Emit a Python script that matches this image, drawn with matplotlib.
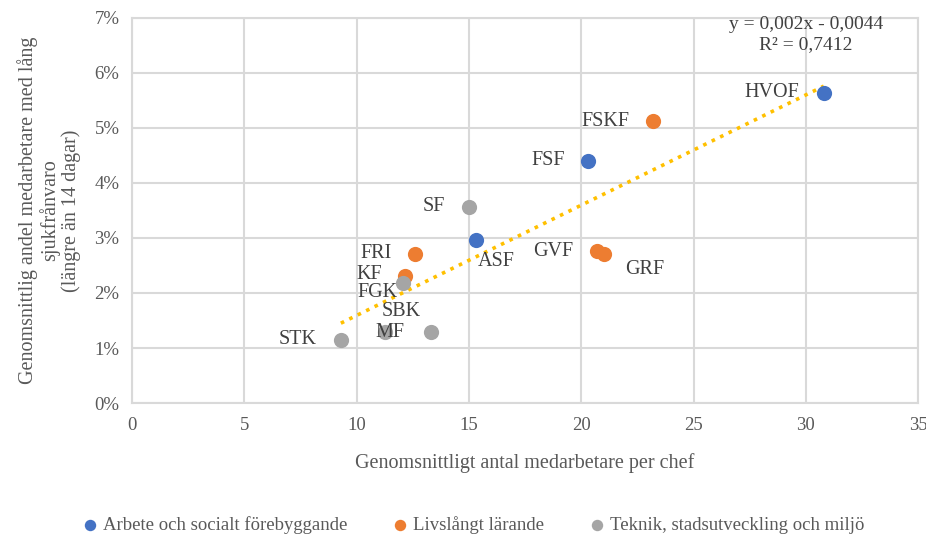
import numpy as np
import matplotlib
matplotlib.use("Agg")
import matplotlib.pyplot as plt

plt.rcParams['font.family'] = ['Liberation Serif', 'DejaVu Serif']

# Data (x = medarbetare per chef, y = andel i %)
blue_names = ["ASF", "FSF", "HVOF"]
blue_x = [15.3, 20.3, 30.8]
blue_y = [2.96, 4.40, 5.64]

orange_names = ["FRI", "KF", "FSKF", "GVF", "GRF"]
orange_x = [12.6, 12.15, 23.2, 20.7, 21.0]
orange_y = [2.71, 2.31, 5.12, 2.76, 2.71]

gray_names = ["STK", "MF", "SBK", "FGK", "SF"]
gray_x = [9.3, 11.25, 13.3, 12.05, 15.0]
gray_y = [1.15, 1.29, 1.29, 2.19, 3.57]

series = [
    ("Arbete och socialt förebyggande", "#4472C4", blue_names, blue_x, blue_y),
    ("Livslångt lärande", "#ED7D31", orange_names, orange_x, orange_y),
    ("Teknik, stadsutveckling och miljö", "#A5A5A5", gray_names, gray_x, gray_y),
]

# label offsets in pixels
offsets = {
    "HVOF": (-52, 0), "FSKF": (-48, 0), "FSF": (-40, 0), "SF": (-35, 0),
    "FRI": (-39, 0), "ASF": (21, -21), "GVF": (-44, 0), "GRF": (41, -16),
    "KF": (-36, 1), "FGK": (-25, -10), "SBK": (-30, 21), "MF": (5, 0),
    "STK": (-43, 0),
}

fig = plt.figure(figsize=(9.26, 5.36), dpi=100)
ax = fig.add_axes([0.1425, 0.248, 0.849, 0.719])

for name, color, names, xs, ys in series:
    ax.scatter(xs, ys, s=120, color=color, label=name, zorder=3, linewidths=0)
    for n, x, y in zip(names, xs, ys):
        dx, dy = offsets[n]
        ax.annotate(n, (x, y), xytext=(dx, dy), textcoords="offset pixels",
                    ha="center", va="center", fontsize=14.5, color="#404040", zorder=4)

# Linear trendline over all points
all_x = np.array(blue_x + orange_x + gray_x)
all_y = np.array(blue_y + orange_y + gray_y)
k, m = np.polyfit(all_x, all_y, 1)
tx = np.array([all_x.min(), all_x.max()])
ax.plot(tx, k * tx + m, color="#FFC000", linestyle=(0, (1, 1.6)), linewidth=2.6, zorder=2)
ax.text(0.857, 1.005, "y = 0,002x - 0,0044\nR² = 0,7412", transform=ax.transAxes,
        ha="center", va="top", fontsize=14, color="#404040", linespacing=1.25)

ax.set_xlim(0, 35)
ax.set_ylim(0, 7)
ax.set_xticks(range(0, 36, 5))
ax.set_yticks(range(0, 8))
ax.set_yticklabels([f"{i}%" for i in range(0, 8)])
ax.tick_params(length=0, labelsize=13.5, labelcolor="#595959", pad=9)
ax.tick_params(axis="x", pad=10)
ax.grid(True, color="#d9d9d9", linewidth=1.5)
ax.set_axisbelow(True)
for s in ax.spines.values():
    s.set_color("#d9d9d9")
    s.set_linewidth(1.5)

ax.set_xlabel("Genomsnittligt antal medarbetare per chef", fontsize=14.5, color="#595959", labelpad=14)
ax.set_ylabel("Genomsnittlig andel medarbetare med lång\nsjukfrånvaro\n(längre än 14 dagar)",
              fontsize=14.5, color="#595959", labelpad=10, linespacing=1.05)

fig.legend(loc="lower center", bbox_to_anchor=(0.505, -0.028), ncol=3, frameon=False,
           fontsize=13.5, handletextpad=-0.3, columnspacing=1.8, markerscale=0.75,
           labelcolor="#595959")

fig.savefig("out.png", dpi=100)
